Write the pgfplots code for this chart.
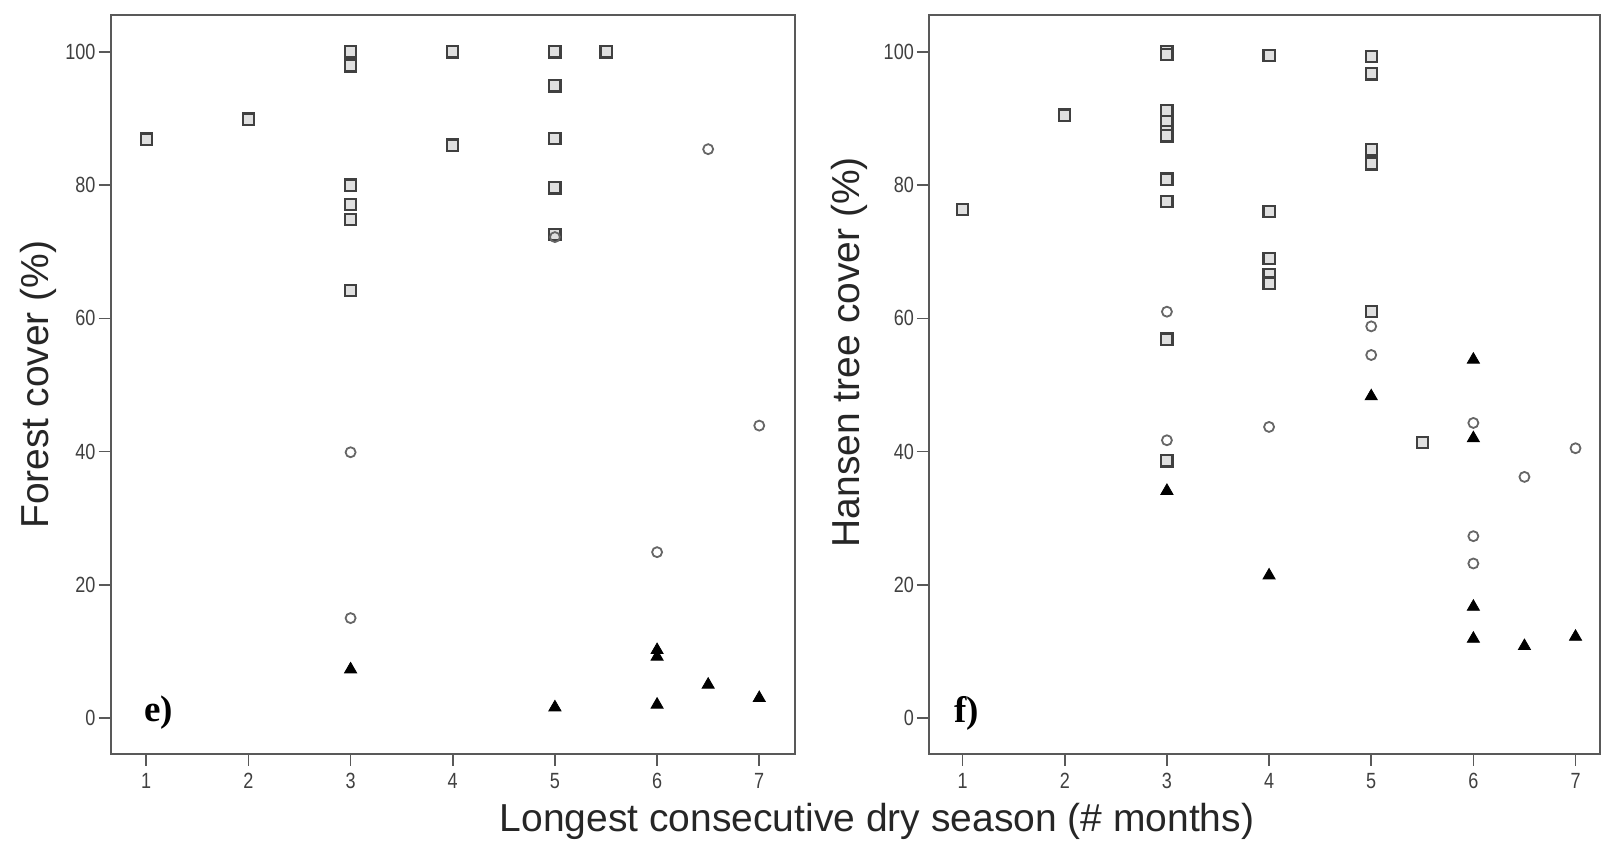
\documentclass[border=0pt]{standalone}
\usepackage{fontspec}
\setmainfont{Liberation Sans}
\newfontfamily\tickfont[FakeStretch=0.82]{Liberation Sans}
\newfontfamily\panelfont{Liberation Serif}
\usepackage{pgfplots}
\pgfplotsset{compat=1.18}
\definecolor{axisgray}{gray}{0.35}
\pgfplotsset{
  panel/.style={
    scale only axis, anchor=south west,
    height=369.35pt, ymin=-5.4, ymax=105.5,
    xtick={1,...,7}, ytick={0,20,...,100},
    xtick pos=bottom, ytick pos=left,
    tick align=outside, major tick length=6pt,
    axis line style={axisgray, line width=1pt},
    tick style={axisgray, line width=0.8pt},
    tick label style={font=\tickfont\fontsize{11}{12}\selectfont, text=black!75},
    yticklabel style={xshift=2pt},
    /pgf/number format/assume math mode=true,
    label style={font=\fontsize{19.5}{22}\selectfont, text=black!85},
  },
  sq/.style={only marks, mark=square*, mark size=2.8pt, mark options={draw=black!75, fill=black!12, line width=1.1pt}},
  ci/.style={only marks, mark=o, mark size=2.5pt, mark options={draw=black!60, line width=0.9pt}},
  tr/.style={only marks, mark=triangle*, mark size=3.5pt, mark options={draw=black, fill=black}},
}
\begin{document}
\begin{tikzpicture}
\useasboundingbox (0,0) rectangle (802pt,424.5pt);
% ---------------- panel e ----------------
\begin{axis}[panel, at={(55.25pt,47.5pt)}, width=342.25pt, xmin=0.65, xmax=7.35,
  ylabel={Forest cover (\%)}, ylabel style={at={(rel axis cs:-0.106,0.5)}, anchor=center}]
\addplot[sq] coordinates {
 (1,86.9) (2,89.9)
 (3,100) (3,97.9) (3,80) (3,77.1) (3,74.8) (3,64.2)
 (4,100) (4,86.0)
 (5,100) (5,94.9) (5,87.0) (5,79.6) (5,72.6)
 (5.5,100)
};
\addplot[ci] coordinates {
 (3,39.9) (3,15.0) (5,72.2) (6,24.9) (6.5,85.4) (7,43.9)
};
\addplot[tr] coordinates {
 (3,7.3) (5,1.6) (6,10.2) (6,9.2) (6,2.0) (6.5,5.0) (7,3.0)
};
\node[font=\panelfont\bfseries\fontsize{18.5}{20}\selectfont] at (rel axis cs:0.07,0.0555) {e)};
\end{axis}
% ---------------- panel f ----------------
\begin{axis}[panel, at={(464.45pt,47.5pt)}, width=335.55pt, xmin=0.67, xmax=7.24,
  ylabel={Hansen tree cover (\%)}, ylabel style={at={(rel axis cs:-0.119,0.544)}, anchor=center}]
\addplot[sq] coordinates {
 (1,76.3) (2,90.5)
 (3,100.1) (3,99.6) (3,91.2) (3,89.5) (3,88.0) (3,87.4) (3,80.9) (3,77.5) (3,56.9) (3,38.6)
 (4,99.5) (4,76.0) (4,69.0) (4,66.6) (4,65.3)
 (5,99.3) (5,96.7) (5,85.3) (5,83.2) (5,61.0)
 (5.5,41.4)
};
\addplot[ci] coordinates {
 (3,61.0) (3,41.7) (4,43.7) (5,58.8) (5,54.5)
 (6,44.3) (6,27.3) (6,23.2) (6.5,36.2) (7,40.5)
};
\addplot[tr] coordinates {
 (3,34.1) (4,21.4) (5,48.3) (6,53.8) (6,42.0) (6,16.7) (6,11.9) (6.5,10.8) (7,12.2)
};
\node[font=\panelfont\bfseries\fontsize{18.5}{20}\selectfont] at (rel axis cs:0.056,0.0555) {f)};
\end{axis}
\node[font=\fontsize{19.5}{22}\selectfont, text=black!85] at (438.5pt,13.75pt) {Longest consecutive dry season (\# months)};
\end{tikzpicture}
\end{document}
